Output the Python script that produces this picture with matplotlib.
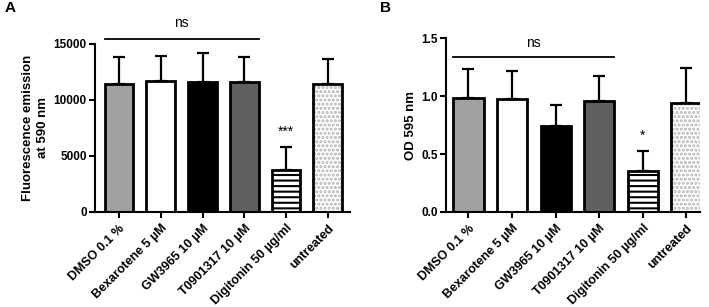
import matplotlib.pyplot as plt

plt.rcParams['font.family'] = ['Liberation Sans', 'DejaVu Sans']
plt.rcParams['font.weight'] = 'bold'
plt.rcParams['hatch.linewidth'] = 1.5

# ---------------------------------------------------------------------
# Data
# ---------------------------------------------------------------------
treatments = ["DMSO 0.1 %", "Bexarotene 5 µM", "GW3965 10 µM",
              "T0901317 10 µM", "Digitonin 50 µg/ml", "untreated"]

fluo_mean = [11430, 11690, 11630, 11600, 3750, 11400]
fluo_sd = [2380, 2200, 2560, 2210, 2080, 2260]

od_mean = [0.987, 0.976, 0.743, 0.958, 0.357, 0.944]
od_sd = [0.248, 0.244, 0.178, 0.214, 0.173, 0.299]

fills = ["#a0a0a0", "white", "black", "#606060", "white", "white"]
hatches = [None, None, None, None, "---", "...."]

fluo_marks = ["", "", "", "", "***", ""]
od_marks = ["", "", "", "", "*", ""]

BAR_W = 0.69


def draw_panel(ax, means, sds, marks, ylim, yticks, ylabel, ns_y, ns_txt_y,
               xlim, star_off):
    x = list(range(len(treatments)))
    ax.errorbar(x, means, yerr=[[0] * len(sds), sds], fmt="none",
                ecolor="black", elinewidth=1.6, capsize=4, capthick=1.6,
                zorder=1)
    for i in x:
        if hatches[i] == "....":
            # light dotted fill, black outline on top
            ax.bar(i, means[i], BAR_W, color="white", edgecolor="#b4b4b4",
                   hatch=hatches[i], linewidth=0, zorder=2)
            ax.bar(i, means[i], BAR_W, fill=False, edgecolor="black",
                   linewidth=2, zorder=3)
        else:
            ax.bar(i, means[i], BAR_W, color=fills[i], edgecolor="black",
                   hatch=hatches[i], linewidth=2, zorder=2)
        if marks[i]:
            ax.annotate(marks[i], (i, means[i] + sds[i]),
                        xytext=(0, star_off), textcoords="offset points",
                        ha="center", va="center", fontsize=10,
                        fontweight="normal")

    # ns bracket over the first four groups
    ax.plot([0 - BAR_W / 2, 3 + BAR_W / 2], [ns_y, ns_y], color="black",
            lw=1.3, clip_on=False)
    ax.text(1.5, ns_txt_y, "ns", ha="center", va="center", fontsize=10,
            fontweight="normal")

    ax.set_ylim(*ylim)
    ax.set_yticks(yticks)
    ax.set_xlim(*xlim)
    ax.set_xticks(x)
    ax.set_xticklabels(treatments, rotation=45, ha="right",
                       rotation_mode="anchor", fontsize=9)
    ax.tick_params(axis="y", labelsize=8.5, width=1.5, length=4, pad=2)
    ax.tick_params(axis="x", width=1.5, length=4)
    ax.set_ylabel(ylabel, fontsize=9.5, fontweight="bold", linespacing=1.35,
                  labelpad=3)
    for s in ["top", "right"]:
        ax.spines[s].set_visible(False)
    for s in ["left", "bottom"]:
        ax.spines[s].set_linewidth(1.5)


fig = plt.figure(figsize=(7.09, 3.07), dpi=100)
H = 307.0
W = 709.0
ax_a = fig.add_axes([95 / W, (H - 212) / H, (350 - 95) / W, (212 - 44) / H])
ax_b = fig.add_axes([446 / W, (H - 212) / H, (700 - 446) / W, (212 - 38.3) / H])

draw_panel(ax_a, fluo_mean, fluo_sd, fluo_marks, (0, 15000),
           [0, 5000, 10000, 15000], "Fluorescence emission\nat 590 nm",
           15420, 16850, (-0.574, 5.53), 11)
draw_panel(ax_b, od_mean, od_sd, od_marks, (0, 1.5),
           [0.0, 0.5, 1.0, 1.5], "OD 595 nm",
           1.341, 1.46, (-0.517, 5.32), 11)
ax_b.set_yticklabels(["0.0", "0.5", "1.0", "1.5"])

fig.text(5 / W, 1 - 8 / H, "A", fontsize=11, fontweight="bold", va="center")
fig.text(380 / W, 1 - 8 / H, "B", fontsize=11, fontweight="bold", va="center")

fig.savefig("out.png", dpi=100)
